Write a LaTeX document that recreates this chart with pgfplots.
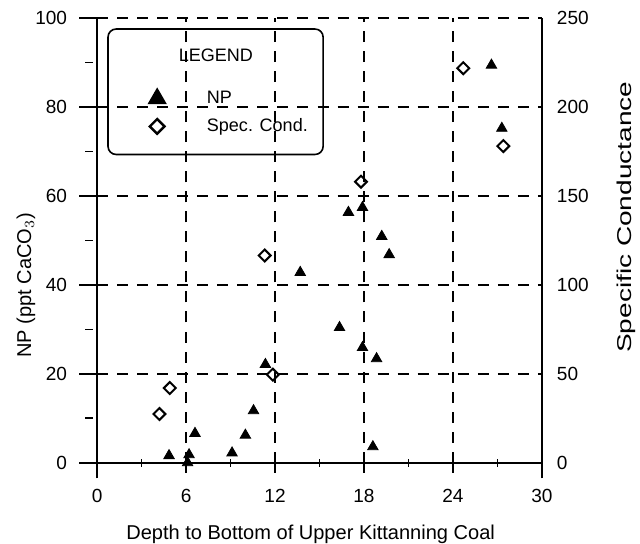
\documentclass[border=0pt]{standalone}
\usepackage{pgfplots}
\pgfplotsset{compat=1.18}
\usepackage{fontspec}
\setmainfont{Liberation Sans}
\begin{document}
\begin{tikzpicture}
\pgfplotsset{
  common/.style={
    scale only axis, width=222pt, height=222pt,
    xmin=0, xmax=30,
    clip=false,
    axis line style={line width=1pt, -},
    /pgf/number format/assume math mode=true,
    tick label style={font=\fontsize{9.5}{11}\selectfont},
    label style={font=\fontsize{10}{12}\selectfont},
  }
}
\begin{axis}[common,
  ymin=0, ymax=100,
  axis x line*=bottom, axis y line*=left,
  xtick={0,6,...,30}, minor xtick={3,9,...,27},
  ytick={0,20,...,100}, minor ytick={10,30,...,90},
  tick align=center,
  major tick length=10pt, minor tick length=4pt,
  tick style={line width=0.8pt, black},
  ytick style={xshift=-4pt},
  yticklabel style={xshift=-6.5pt},
  xticklabel style={yshift=-4.5pt},
  grid=major,
  major grid style={dash pattern=on 5.5pt off 4.5pt, line width=0.8pt, black},
  xlabel={Depth to Bottom of Upper Kittanning Coal},
  xlabel style={at={(axis description cs:0.48,-0.16)}, anchor=center},
  ylabel={NP (ppt CaCO$_3$)},
  ylabel style={at={(axis description cs:-0.16,0.399)}, anchor=center},
  legend cell align=left,
  legend style={at={(axis cs:0.68,97.7)}, anchor=north west, draw=black,
    line width=0.8pt, rounded corners=4pt, fill=none,
    font=\fontsize{9}{11}\selectfont, inner xsep=16pt, inner ysep=8pt,
    row sep=2pt,
    /tikz/every odd column/.append style={column sep=18.5pt}},
]
\addlegendimage{draw=none, fill=none, mark=none, legend image code/.code={\path[draw=none] (0pt,-13pt) rectangle (1pt,2pt);}}
\addlegendentry{\hspace*{-14pt}LEGEND}
\addlegendimage{only marks, mark=triangle*, mark size=5pt, black, line width=0.6pt}
\addlegendentry{NP}
\addlegendimage{only marks, mark=square, mark size=2.6pt, black, line width=1.2pt, mark options={rotate=45}}
\addlegendentry{\makebox[40pt][l]{Spec. Cond.}}

\addplot[only marks, mark=triangle*, mark size=3pt, black, forget plot] coordinates {
(4.85,1.6) (6.2,1.8) (6.1,0.0) (6.6,6.6) (9.1,2.2) (10.0,6.2) (10.55,11.7)
(11.35,22.1) (13.7,42.8) (16.35,30.4) (17.9,25.9) (18.85,23.4) (18.6,3.6)
(19.7,46.8) (16.95,56.3) (17.9,57.4) (19.2,50.9) (26.6,89.4) (27.3,75.2)
};
\draw[line width=1pt] (axis cs:0,-3.5) -- (axis cs:0,0);
\draw[line width=1pt] (axis cs:30,-3.5) -- (axis cs:30,0);
\coordinate (O) at (axis cs:0,0);
\coordinate (T) at (axis cs:30,100);
\end{axis}
\begin{axis}[common,
  ymin=0, ymax=250,
  axis x line=none, axis y line*=right,
  ytick={0,50,...,250},
  major tick length=0pt,
  yticklabel style={xshift=4pt},
  ylabel={\scalebox{1.4}[1]{Specific Conductance}},
  ylabel style={at={(axis description cs:1.189,0.552)}, anchor=center},
]
\addplot[only marks, mark=square, mark size=2.1pt, black, line width=1pt,
  mark options={rotate=45, fill=white}] coordinates {
(4.2,27.4) (4.9,42) (11.3,116.5) (11.85,49.5) (17.8,158) (24.7,221.8) (27.4,178)
};
\end{axis}
\pgfresetboundingbox
\path[use as bounding box] ([xshift=-48.5pt,yshift=-40.5pt]O) rectangle ([xshift=49pt,yshift=9pt]T);
\end{tikzpicture}
\end{document}
